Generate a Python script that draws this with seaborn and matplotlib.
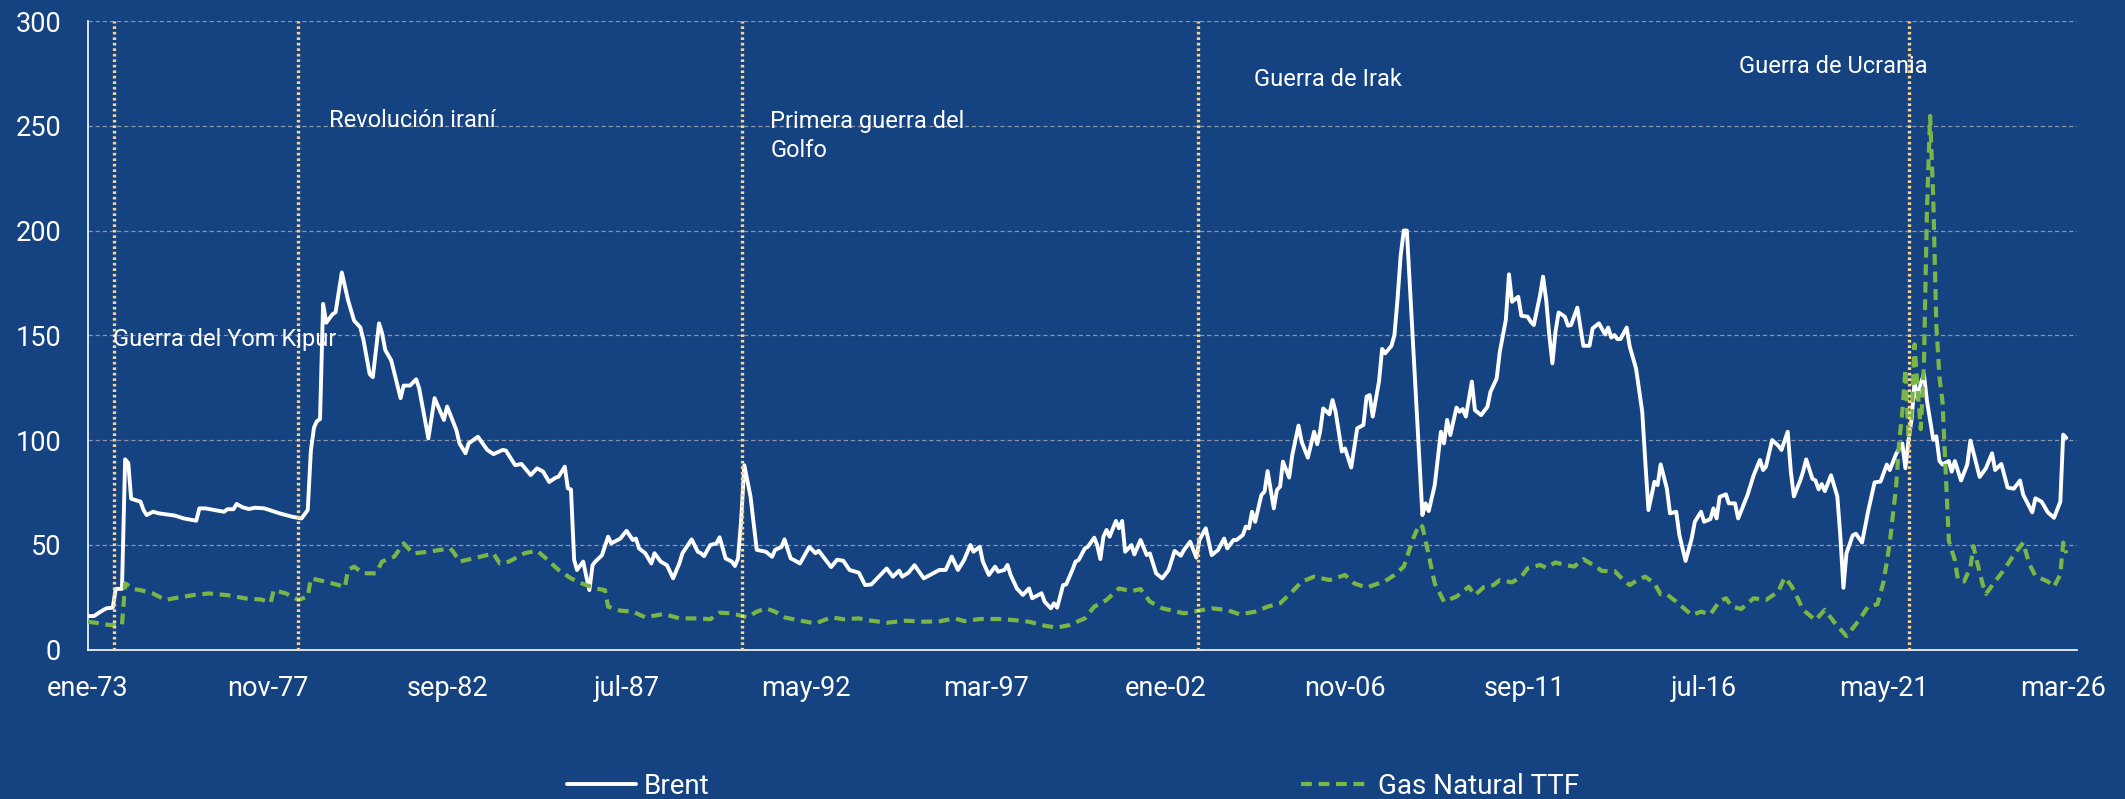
import matplotlib
matplotlib.use("Agg")
import matplotlib.pyplot as plt
import pandas as pd
import seaborn as sns

# ---------------- data ----------------
brent_dates = [
    "1973-01", "1973-03", "1973-05", "1973-07", "1973-09", "1973-10", "1973-12",
    "1974-01", "1974-02", "1974-03", "1974-06", "1974-07", "1974-08", "1974-10", "1974-12",
    "1975-05", "1975-08", "1975-12", "1976-01", "1976-03", "1976-07", "1976-09", "1976-10",
    "1976-12", "1977-01", "1977-03", "1977-05", "1977-07", "1977-10", "1978-03", "1978-07",
    "1978-10", "1978-12", "1979-01", "1979-02", "1979-03", "1979-04", "1979-05", "1979-06",
    "1979-08", "1979-09", "1979-11", "1980-01", "1980-03", "1980-05", "1980-06", "1980-08",
    "1980-09", "1980-11", "1980-12", "1981-01", "1981-03", "1981-06", "1981-07", "1981-09",
    "1981-11", "1981-12", "1982-03", "1982-05", "1982-08", "1982-09", "1982-12", "1983-01",
    "1983-03", "1983-04", "1983-07", "1983-10", "1983-12", "1984-03", "1984-04", "1984-07",
    "1984-09", "1984-12", "1985-02", "1985-04", "1985-06", "1985-08", "1985-09", "1985-11",
    "1985-12", "1986-01", "1986-02", "1986-03", "1986-05", "1986-06", "1986-07", "1986-08",
    "1986-09", "1986-11", "1987-01", "1987-02", "1987-05", "1987-07", "1987-09", "1987-10",
    "1987-11", "1988-01", "1988-03", "1988-04", "1988-06", "1988-08", "1988-10", "1988-12",
    "1989-01", "1989-04", "1989-06", "1989-07", "1989-08", "1989-10", "1989-12", "1990-01",
    "1990-03", "1990-05", "1990-06", "1990-07", "1990-08", "1990-09", "1990-11", "1991-01",
    "1991-04", "1991-06", "1991-07", "1991-09", "1991-10", "1991-12", "1992-01", "1992-03",
    "1992-06", "1992-08", "1992-09", "1993-01", "1993-03", "1993-05", "1993-07", "1993-10",
    "1993-12", "1994-02", "1994-05", "1994-07", "1994-09", "1994-11", "1994-12", "1995-02",
    "1995-04", "1995-07", "1995-09", "1995-12", "1996-02", "1996-04", "1996-06", "1996-08",
    "1996-10", "1996-11", "1997-01", "1997-02", "1997-04", "1997-06", "1997-07", "1997-09",
    "1997-10", "1997-11", "1998-01", "1998-03", "1998-05", "1998-06", "1998-09", "1998-10",
    "1998-12", "1999-01", "1999-02", "1999-04", "1999-05", "1999-07", "1999-08", "1999-09",
    "1999-11", "1999-12", "2000-02", "2000-03", "2000-04", "2000-05", "2000-06", "2000-07",
    "2000-09", "2000-10", "2000-11", "2000-12", "2001-02", "2001-03", "2001-05", "2001-07",
    "2001-08", "2001-10", "2001-12", "2002-02", "2002-04", "2002-06", "2002-07", "2002-09",
    "2002-11", "2002-12", "2003-02", "2003-04", "2003-06", "2003-08", "2003-09", "2003-11",
    "2003-12", "2004-02", "2004-03", "2004-04", "2004-05", "2004-06", "2004-08", "2004-09",
    "2004-10", "2004-12", "2005-01", "2005-02", "2005-03", "2005-05", "2005-06", "2005-08",
    "2005-09", "2005-11", "2006-01", "2006-02", "2006-03", "2006-04", "2006-06", "2006-07",
    "2006-08", "2006-10", "2006-11", "2007-01", "2007-03", "2007-05", "2007-06", "2007-07",
    "2007-08", "2007-10", "2007-11", "2007-12", "2008-02", "2008-03", "2008-04", "2008-05",
    "2008-06", "2008-07", "2008-12", "2009-01", "2009-02", "2009-04", "2009-06", "2009-07",
    "2009-08", "2009-09", "2009-11", "2009-12", "2010-01", "2010-02", "2010-04", "2010-05",
    "2010-07", "2010-09", "2010-10", "2010-12", "2011-01", "2011-03", "2011-04", "2011-05",
    "2011-07", "2011-08", "2011-10", "2011-11", "2011-12", "2012-02", "2012-03", "2012-04",
    "2012-05", "2012-06", "2012-07", "2012-08", "2012-10", "2012-11", "2012-12", "2013-02",
    "2013-04", "2013-06", "2013-07", "2013-09", "2013-11", "2013-12", "2014-01", "2014-02",
    "2014-03", "2014-04", "2014-06", "2014-07", "2014-09", "2014-11", "2014-12", "2015-01",
    "2015-03", "2015-04", "2015-05", "2015-07", "2015-08", "2015-10", "2015-11", "2016-01",
    "2016-03", "2016-04", "2016-06", "2016-07", "2016-09", "2016-10", "2016-11", "2016-12",
    "2017-02", "2017-03", "2017-05", "2017-06", "2017-09", "2017-11", "2018-01", "2018-02",
    "2018-03", "2018-05", "2018-07", "2018-08", "2018-10", "2018-11", "2018-12", "2019-02",
    "2019-03", "2019-04", "2019-06", "2019-07", "2019-08", "2019-09", "2019-10", "2019-12",
    "2020-02", "2020-03", "2020-04", "2020-05", "2020-07", "2020-08", "2020-10", "2020-12",
    "2021-02", "2021-04", "2021-06", "2021-07", "2021-09", "2021-11", "2021-12", "2022-01",
    "2022-02", "2022-03", "2022-04", "2022-05", "2022-06", "2022-07", "2022-09", "2022-10",
    "2022-11", "2022-12", "2023-02", "2023-03", "2023-04", "2023-06", "2023-08", "2023-09",
    "2023-12", "2024-02", "2024-04", "2024-05", "2024-07", "2024-09", "2024-11", "2025-01",
    "2025-02", "2025-05", "2025-06", "2025-08", "2025-10", "2025-12", "2026-02", "2026-03",
    "2026-04",
]
brent_values = [
    16, 16, 18, 19.7, 20, 29, 29,
    90.8, 89, 72, 70.6, 66.6, 64.2, 65.8, 65,
    64, 62.6, 61.5, 67.4, 67.4, 66.3, 65.8, 67,
    67, 69.5, 67.9, 67.1, 67.7, 67.4, 65, 63.4,
    62.6, 66.6, 95, 106, 109, 110, 165, 156,
    160, 161, 180, 166.8, 157, 153.8, 147.8, 131.5,
    130, 155.7, 151, 143, 138, 120, 126, 126,
    129, 124.6, 100.8, 120, 109.6, 116, 104.8, 98.4,
    93.7, 98.4, 101.6, 95.3, 93.3, 95.3, 95, 88,
    88.6, 83.3, 86.5, 85, 80, 82, 82.5, 87.3,
    77, 76.4, 42.8, 38, 42, 34.8, 28.4, 40.3,
    42.2, 45, 53.9, 50.7, 53, 56.7, 52.3, 53,
    48.3, 46, 41.1, 46, 42, 40.3, 34, 41.1,
    46, 52.6, 46.7, 46, 44.6, 49.9, 50.7, 53.6,
    43.5, 42, 39.9, 43.5, 62, 88, 73, 47.6,
    46.7, 44.3, 47.6, 49, 52.6, 43.5, 42.8, 41.1,
    49, 46, 47.2, 39.4, 42.9, 42.4, 38, 36.7,
    30.8, 31.1, 35.6, 38.7, 34.8, 37.7, 34.8, 36.7,
    40.3, 34, 35.6, 38, 38, 44.4, 38, 42.8,
    49.9, 46.7, 49.1, 42, 35.6, 39.6, 37.2, 38,
    40.4, 35.6, 29.2, 26.1, 29.2, 24.5, 26.9, 22.9,
    19.7, 22.1, 20, 30.8, 31.1, 38, 42, 42.8,
    48.3, 49.1, 53.4, 49.9, 43.2, 53.9, 57.1, 53.9,
    61.4, 57.9, 61.4, 46.7, 49.9, 45.4, 52.3, 45.1,
    45.9, 36.4, 34, 38, 47.1, 44.8, 47.5, 51.5,
    43.9, 52.3, 57.9, 45.1, 47.5, 53, 48.3, 52.3,
    52.3, 54.7, 58.7, 57.9, 65.8, 61, 73.8, 75.4,
    85.2, 67.4, 76.2, 77.8, 89.7, 82.1, 92.9, 106.9,
    99.2, 91.6, 104, 98, 104, 115.1, 112.3, 119.1,
    113.5, 94.5, 96, 86.9, 105.6, 107.2, 120.7, 121.5,
    111.2, 127.9, 143.5, 141.4, 145, 150.1, 167.6, 188,
    200, 200, 64.2, 69.8, 66.1, 78.5, 104, 98.4,
    109.6, 102.4, 115.5, 113.5, 114.8, 111.2, 127.9, 114.3,
    111.9, 115.9, 123, 129.4, 142.2, 157.3, 179.1, 166,
    168.4, 159.3, 158.9, 156.5, 154.9, 169.2, 178, 166.8,
    150.1, 136.6, 151.7, 160.9, 158.9, 154.6, 154.9, 163.2,
    145, 145, 153.3, 155.7, 150.4, 153.7, 148.9, 150.1,
    148.2, 148.2, 153.7, 144.6, 134.2, 113.5, 89.7, 66.6,
    80.1, 78.5, 88.4, 76.9, 65, 65.8, 54.7, 42.3,
    53, 61, 65.8, 61, 62.3, 67.4, 62.6, 72.9,
    74.1, 69.8, 69.8, 62.6, 73.8, 83.3, 90.5, 85.7,
    87.3, 100, 97.3, 95.3, 104, 84.9, 73.1, 80.7,
    84.9, 90.8, 81.5, 80.7, 76.5, 79, 75.6, 83.2,
    73.1, 54.5, 29.5, 46, 54.5, 55.3, 51.1, 66.3,
    79.8, 80.2, 88.3, 85.7, 93.4, 98.4, 86.6, 100.1,
    110.3, 128, 119.6, 127.1, 131.4, 118.7, 100.1, 101.8,
    90, 88.3, 90, 84.9, 90, 80.7, 88.3, 99.8,
    82.4, 86.6, 93.7, 85.7, 88.6, 77.3, 76.8, 80.7,
    73.9, 65.5, 72.2, 70.6, 65.5, 62.9, 70.6, 102.6,
    101,
]

gas_dates = [
    "1973-01", "1973-05", "1973-08", "1973-12", "1974-01", "1974-04", "1974-06", "1974-10",
    "1975-02", "1975-06", "1975-11", "1976-04", "1976-10", "1977-04", "1977-09", "1977-12",
    "1978-01", "1978-05", "1978-09", "1978-12", "1979-01", "1979-05", "1979-10", "1979-12",
    "1980-01", "1980-03", "1980-06", "1980-10", "1980-12", "1981-04", "1981-07", "1981-10",
    "1982-03", "1982-10", "1982-11", "1983-01", "1983-04", "1983-08", "1983-12", "1984-02",
    "1984-05", "1984-10", "1985-02", "1985-05", "1985-09", "1986-01", "1986-05", "1986-09",
    "1986-12", "1987-01", "1987-05", "1987-09", "1988-01", "1988-07", "1988-12", "1989-06",
    "1989-10", "1990-01", "1990-05", "1990-10", "1991-01", "1991-04", "1991-07", "1991-10",
    "1992-02", "1992-08", "1993-01", "1993-05", "1993-10", "1994-02", "1994-07", "1995-01",
    "1995-07", "1995-12", "1996-05", "1996-08", "1997-01", "1997-07", "1997-12", "1998-05",
    "1998-10", "1999-02", "1999-06", "1999-11", "2000-02", "2000-06", "2000-10", "2001-02",
    "2001-05", "2001-08", "2001-12", "2002-07", "2002-11", "2003-04", "2003-09", "2004-01",
    "2004-06", "2004-10", "2005-02", "2005-06", "2005-09", "2006-01", "2006-06", "2006-11",
    "2007-02", "2007-06", "2007-12", "2008-03", "2008-06", "2008-09", "2008-11", "2008-12",
    "2009-02", "2009-04", "2009-07", "2009-11", "2010-03", "2010-05", "2010-08", "2010-11",
    "2011-01", "2011-05", "2011-08", "2011-10", "2012-02", "2012-04", "2012-07", "2012-10",
    "2013-01", "2013-04", "2013-08", "2013-10", "2014-02", "2014-05", "2014-07", "2014-10",
    "2014-12", "2015-03", "2015-05", "2015-07", "2015-10", "2016-03", "2016-06", "2016-09",
    "2016-12", "2017-02", "2017-04", "2017-07", "2017-11", "2018-03", "2018-07", "2018-09",
    "2018-11", "2018-12", "2019-03", "2019-07", "2019-10", "2020-01", "2020-05", "2020-09",
    "2020-12", "2021-03", "2021-05", "2021-07", "2021-09", "2021-10", "2021-11", "2021-12",
    "2022-01", "2022-02", "2022-03", "2022-04", "2022-05", "2022-06", "2022-07", "2022-08",
    "2022-09", "2022-10", "2022-11", "2022-12", "2023-01", "2023-02", "2023-04", "2023-05",
    "2023-07", "2023-09", "2023-10", "2023-11", "2024-01", "2024-02", "2024-05", "2024-08",
    "2024-11", "2025-02", "2025-04", "2025-06", "2025-10", "2025-12", "2026-02", "2026-03",
    "2026-04",
]
gas_values = [
    13.3, 12.5, 11.7, 11.7, 31.6, 28.8, 28.4, 26.8,
    23.7, 24.8, 26, 26.8, 26, 24.4, 23.9, 22.4,
    28.4, 26.8, 23.7, 25.3, 34, 32.7, 30.8, 29.7,
    38, 39.6, 36.4, 36.4, 42, 44.4, 50.7, 45.9,
    46.7, 48.3, 46.7, 42, 43, 44.4, 45.9, 41.1,
    42, 46, 47.2, 43.5, 38, 34, 31.3, 29.2,
    28.4, 20.5, 18.6, 18.1, 15.4, 17, 14.9, 14.9,
    14.5, 17.6, 17.3, 15.4, 18.1, 19.7, 18.1, 15.4,
    14.1, 12.5, 15.4, 14.5, 14.9, 13.8, 12.8, 13.8,
    13.3, 13.5, 14.9, 13.6, 14.6, 14.6, 14.1, 13.3,
    11.4, 10.5, 11.7, 14.9, 20.5, 23.7, 29.2, 27.9,
    28.9, 22.9, 19.7, 17.3, 18.4, 19.7, 18.9, 16.8,
    18.1, 20.5, 22.1, 27.7, 32.4, 34.8, 33.2, 35.6,
    31.6, 29.6, 32.7, 35.6, 39.6, 53, 59.8, 58.7,
    45.1, 31.6, 22.9, 25.3, 30, 26, 30, 30.8,
    33.2, 32.1, 34.8, 38.8, 40.4, 39.1, 41.6, 40.4,
    39.6, 43.2, 39.6, 37.5, 37.5, 33.2, 30.8, 33.7,
    34.8, 31.6, 26.4, 26.4, 22.9, 16.5, 18.1, 16.8,
    23.2, 24.5, 20.5, 19.4, 24.5, 23.7, 27.7, 34.4,
    30.8, 28.3, 19, 14, 19, 13.1, 6.4, 14,
    20.7, 21.6, 32.5, 51.1, 78.1, 99.2, 113.6, 133.9,
    100, 113.6, 145.7, 123.8, 105.2, 135.6, 210, 254.7,
    215, 155, 130, 118, 85, 52, 42.7, 33.4,
    32.5, 39.3, 49.4, 42.7, 30.9, 26.6, 32.5, 38.4,
    45.2, 51.1, 41, 35.1, 32.5, 30, 35.9, 51.1,
    46,
]

event_dates = ["1973-09-10", "1978-09-01", "1990-08-05", "2002-11-12", "2022-01-10"]
event_labels = ["Guerra del Yom Kipur", "Revolución iraní", "Primera guerra del\nGolfo",
                "Guerra de Irak", "Guerra de Ucrania"]

tick_dates = ["1973-01", "1977-11", "1982-09", "1987-07", "1992-05", "1997-03",
              "2002-01", "2006-11", "2011-09", "2016-07", "2021-05", "2026-03"]
tick_labels = ["ene-73", "nov-77", "sep-82", "jul-87", "may-92", "mar-97",
               "ene-02", "nov-06", "sep-11", "jul-16", "may-21", "mar-26"]
y_ticks = [0, 50, 100, 150, 200, 250, 300]

# ---------------- style ----------------
BG = "#154280"
GREEN = "#79B547"
YELLOW = "#FBD38A"
GRID = "#8B97A8"

sns.set_theme(style="white")
plt.rcParams["font.family"] = ["Roboto", "DejaVu Sans"]

W, H = 2125, 799
fig = plt.figure(figsize=(W / 100, H / 100), dpi=100, facecolor=BG)
ax = fig.add_axes([88 / W, 1 - 649.6 / H, (2076.7 - 88) / W, (649.6 - 21) / H])
ax.set_facecolor(BG)

brent = pd.DataFrame({"fecha": pd.to_datetime(brent_dates), "valor": brent_values})
gas = pd.DataFrame({"fecha": pd.to_datetime(gas_dates), "valor": gas_values})

sns.lineplot(data=brent, x="fecha", y="valor", ax=ax, color="white", lw=2.8,
             label="Brent", zorder=4)
sns.lineplot(data=gas, x="fecha", y="valor", ax=ax, color=GREEN, lw=3.0,
             label="Gas Natural TTF", zorder=5)
gas_line = ax.lines[-1]
gas_line.set_dashes((2.6, 1.6))

for d in event_dates:
    ax.axvline(pd.Timestamp(d), color=YELLOW, lw=2.4, dashes=(0.8, 0.85), zorder=6)

# annotations (y = baseline of the last line)
ann_x = ["1973-09-07", "1979-07-01", "1991-05-13", "2004-05-25", "2017-06-10"]
ann_y = [144.8, 249.3, 235.3, 268.9, 275.3]
for lx, ly, txt in zip(ann_x, ann_y, event_labels):
    ax.text(pd.Timestamp(lx), ly, txt, color="white", fontsize=17, ha="left",
            va="baseline", linespacing=1.32, zorder=7)

# axes
ax.set_ylim(0, 300)
ax.set_xlim(pd.Timestamp("1973-01-01"), pd.Timestamp("2026-07-12"))
ax.set_yticks(y_ticks)
ax.set_yticklabels([str(v) for v in y_ticks])
ax.set_xticks(pd.to_datetime(tick_dates))
ax.set_xticklabels(tick_labels)
ax.set_xlabel("")
ax.set_ylabel("")
ax.tick_params(axis="y", length=0, pad=19.4, labelsize=19.5, labelcolor="white")
ax.tick_params(axis="x", direction="in", length=6.5, width=1.2, color="white",
               pad=18, labelsize=19.5, labelcolor="white")
ax.yaxis.grid(True, color=GRID, lw=0.9, dashes=(3.4, 2.3), zorder=0)
ax.xaxis.grid(False)
ax.set_axisbelow(True)
for s in ["top", "right"]:
    ax.spines[s].set_visible(False)
for s in ["left", "bottom"]:
    ax.spines[s].set_color("white")
    ax.spines[s].set_linewidth(1.2)

handles, labels = ax.get_legend_handles_labels()
if ax.get_legend() is not None:
    ax.get_legend().remove()
fig.legend(handles, labels, loc="center left", bbox_to_anchor=(567 / W, 1 - 786 / H),
           ncol=2, frameon=False, fontsize=20, handlelength=2.48, handletextpad=0.29,
           columnspacing=21.3, borderpad=0, borderaxespad=0, labelcolor="white")

fig.savefig("out.png", dpi=100, facecolor=BG)
